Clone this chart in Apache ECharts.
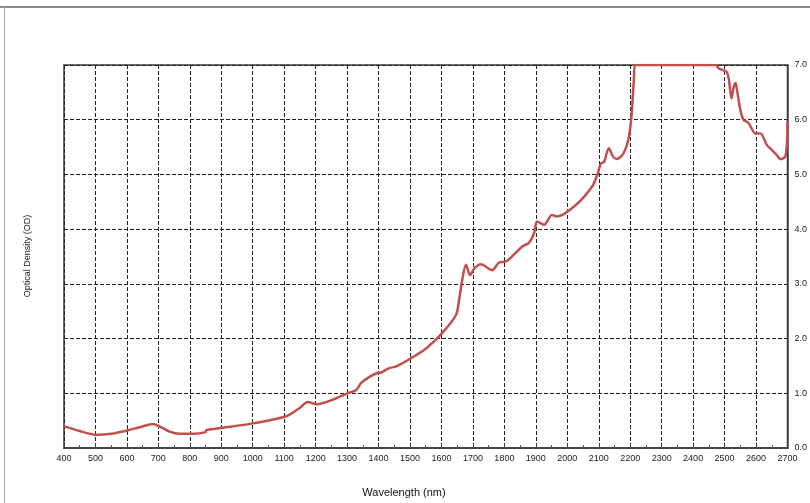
<!DOCTYPE html>
<html>
<head>
<meta charset="utf-8">
<script src="https://cdn.jsdelivr.net/npm/echarts@6/dist/echarts.min.js"></script>
<style>
html,body{margin:0;padding:0;background:#fff;}
#c{width:810px;height:503px;}
</style>
</head>
<body>
<div id="c"></div>
<script>
const wavelength = [400,450,505,550,600,641,683,705,736,768,810,850,853,905,1000,1107,1149,1175,1203,1254,1301,1329,1345,1371,1396,1408,1434,1456,1503,1551,1602,1646,1656,1666,1678,1691,1704,1725,1761,1783,1805,1824,1856,1878,1894,1904,1926,1951,1967,2027,2079,2095,2107,2117,2132,2145,2157,2179,2195,2204,2211,2218,2300,2400,2472,2481,2497,2506,2513,2522,2529,2535,2538,2550,2560,2576,2598,2614,2634,2650,2665,2678,2694,2700];
const density    = [0.40,0.31,0.24,0.26,0.32,0.38,0.44,0.39,0.30,0.26,0.26,0.29,0.33,0.37,0.45,0.58,0.73,0.84,0.80,0.88,1.00,1.06,1.19,1.30,1.37,1.38,1.46,1.49,1.64,1.82,2.10,2.43,2.71,3.07,3.35,3.16,3.28,3.36,3.25,3.39,3.41,3.50,3.68,3.75,3.92,4.14,4.08,4.26,4.23,4.44,4.78,4.99,5.20,5.23,5.48,5.33,5.28,5.39,5.66,6.06,6.67,7.00,7.00,7.00,7.00,6.94,6.90,6.88,6.76,6.39,6.60,6.67,6.60,6.18,6.00,5.94,5.75,5.75,5.54,5.45,5.36,5.28,5.34,5.97];
const yTicks = ['0.0','1.0','2.0','3.0','4.0','5.0','6.0','7.0'];
const xTitle = 'Wavelength (nm)';
const yTitle = 'Optical Density (OD)';

const chart = echarts.init(document.getElementById('c'), null, {renderer:'canvas'});
const font = 'Liberation Sans, Arial, sans-serif';
chart.setOption({
  animation:false,
  backgroundColor:'#fff',
  grid:{left:64,right:20,top:65,bottom:55,show:true,borderColor:'#3a3a3a',borderWidth:1.5},
  xAxis:{
    type:'value',min:400,max:2700,interval:100,
    axisLine:{show:true,lineStyle:{color:'#444',width:2}},
    axisTick:{show:true,inside:true,length:4,lineStyle:{color:'#444'}},
    minorTick:{show:true,splitNumber:2,length:3,lineStyle:{color:'#555'}},
    axisLabel:{fontFamily:font,fontSize:9,color:'#222',margin:6,
      formatter:function(v){return String(v);}},
    splitLine:{show:true,lineStyle:{color:'#222',width:1,type:[4,2]}}
  },
  yAxis:{
    type:'value',position:'right',min:0,max:7,interval:1,
    axisLine:{show:true,lineStyle:{color:'#444',width:1.5}},
    axisTick:{show:false},
    axisLabel:{fontFamily:font,fontSize:9,color:'#222',margin:7,
      formatter:function(v){return yTicks[Math.round(v)];}},
    splitLine:{show:true,lineStyle:{color:'#222',width:1,type:[4,2]}}
  },
  series:[{
    type:'line',
    data:wavelength.map((w,i)=>[w,density[i]]),
    showSymbol:false,smooth:0.3,clip:true,
    lineStyle:{color:'#C0504D',width:2.5}
  }],
  graphic:[
    {type:'line',shape:{x1:0,y1:7,x2:810,y2:7},style:{stroke:'#8a8a8a',lineWidth:2}},
    {type:'line',shape:{x1:4.5,y1:7,x2:4.5,y2:503},style:{stroke:'#b0b0b0',lineWidth:1}},
    {type:'text',x:404,y:493,style:{text:xTitle,font:'11px '+font,fill:'#111',align:'center',verticalAlign:'middle'}},
    {type:'text',x:28,y:256,rotation:Math.PI/2,style:{text:yTitle,font:'9px '+font,fill:'#222',align:'center',verticalAlign:'middle'}}
  ]
});
</script>
</body>
</html>
